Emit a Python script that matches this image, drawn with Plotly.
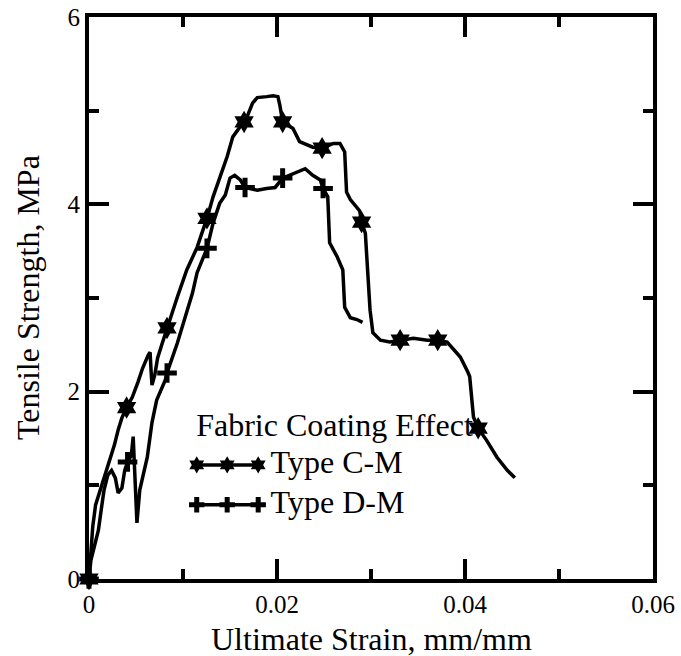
import plotly.graph_objects as go

# ---- data ----
cm_strain = [0, 0.0001, 0.0003, 0.0004, 0.0007, 0.0012, 0.0016, 0.0022, 0.0027, 0.0031, 0.0035,
             0.0040, 0.0046, 0.0052, 0.0057, 0.0063, 0.0065, 0.0066, 0.0067, 0.0070, 0.0073, 0.0078,
             0.0083, 0.0094, 0.0104, 0.0115, 0.0120, 0.01255, 0.0132, 0.0139, 0.0147, 0.0153, 0.0161,
             0.0165, 0.0168, 0.0174, 0.0179, 0.0189, 0.0196, 0.0201, 0.0203, 0.0206, 0.0217, 0.0224,
             0.0232, 0.0238, 0.0248, 0.0260, 0.0267, 0.0272, 0.0274, 0.0278, 0.0288, 0.0290, 0.0294,
             0.0297, 0.0299, 0.0302, 0.0310, 0.0320, 0.0331, 0.0345, 0.0360, 0.0371, 0.0381, 0.0395,
             0.0403, 0.0405, 0.0409, 0.0414, 0.0423, 0.0434, 0.0445, 0.0453]
cm_stress = [0, 0.13, 0.42, 0.56, 0.79, 0.95, 1.09, 1.27, 1.43, 1.59, 1.72,
             1.83, 1.94, 2.10, 2.25, 2.39, 2.42, 2.23, 2.07, 2.18, 2.36, 2.52,
             2.68, 3.01, 3.30, 3.54, 3.69, 3.85, 4.08, 4.29, 4.51, 4.72, 4.83,
             4.88, 4.93, 5.08, 5.14, 5.15, 5.16, 5.15, 5.06, 4.88, 4.81, 4.67,
             4.63, 4.61, 4.60, 4.65, 4.65, 4.56, 4.13, 4.05, 3.93, 3.81, 3.69,
             3.27, 2.87, 2.63, 2.55, 2.53, 2.55, 2.57, 2.55, 2.55, 2.53, 2.37,
             2.21, 2.16, 1.73, 1.61, 1.48, 1.30, 1.16, 1.08]
cm_mark_strain = [0, 0.0040, 0.0083, 0.01255, 0.0165, 0.0206, 0.0248, 0.0290, 0.0331, 0.0371, 0.0414]
cm_mark_stress = [0, 1.83, 2.68, 3.85, 4.88, 4.88, 4.60, 3.81, 2.55, 2.55, 1.61]

dm_strain = [0, 0.0002, 0.0006, 0.0010, 0.0013, 0.0016, 0.0020, 0.0024, 0.0028, 0.0031, 0.0035,
             0.0038, 0.0041, 0.0045, 0.0047, 0.0049, 0.0051, 0.0054, 0.0062, 0.0067, 0.0072, 0.0081,
             0.0083, 0.0094, 0.0104, 0.0110, 0.0115, 0.01255, 0.0132, 0.0139, 0.0145, 0.0150, 0.0155,
             0.0161, 0.0166, 0.0179, 0.0189, 0.0198, 0.0206, 0.0217, 0.0230, 0.0238, 0.0246, 0.0249,
             0.0254, 0.0256, 0.0264, 0.0270, 0.0272, 0.0278, 0.0285, 0.0291]
dm_stress = [0, 0.20, 0.36, 0.52, 0.74, 0.95, 1.11, 1.16, 1.08, 0.92, 0.97,
             1.16, 1.25, 1.32, 1.52, 1.06, 0.60, 0.95, 1.30, 1.67, 1.91, 2.12,
             2.20, 2.52, 2.87, 3.05, 3.27, 3.53, 3.80, 4.01, 4.10, 4.28, 4.31,
             4.26, 4.18, 4.15, 4.17, 4.18, 4.28, 4.33, 4.38, 4.31, 4.26, 4.17,
             4.08, 3.59, 3.44, 3.30, 2.90, 2.79, 2.77, 2.74]
dm_mark_strain = [0, 0.0041, 0.0083, 0.01255, 0.0166, 0.0206, 0.0249]
dm_mark_stress = [0, 1.25, 2.20, 3.53, 4.18, 4.28, 4.17]

series_names = ["Type C-M", "Type D-M"]
legend_title = "Fabric Coating Effect"
x_title = "Ultimate Strain, mm/mm"
y_title = "Tensile Strength, MPa"
x_ticks = [0, 0.02, 0.04, 0.06]
x_ticklabels = ["0", "0.02", "0.04", "0.06"]
y_ticks = [0, 2, 4, 6]
y_ticklabels = ["0", "2", "4", "6"]

FONT = "Liberation Serif"
BLACK = "#000000"

fig = go.Figure()

# legend (drawn manually on an overlay axis so it can show three markers, under the data)
fig.add_trace(go.Scatter(x=[0.190], y=[0.269], mode="text", text=[legend_title],
                         textposition="middle right", textfont=dict(family=FONT, size=32, color=BLACK),
                         xaxis="x2", yaxis="y2", showlegend=False, hoverinfo="skip", cliponaxis=False))
fig.add_trace(go.Scatter(x=[0.191, 0.245, 0.300], y=[0.203] * 3, mode="lines+markers",
                         line=dict(color=BLACK, width=3.5),
                         marker=dict(symbol="hexagram", size=13, color=BLACK),
                         xaxis="x2", yaxis="y2", showlegend=False, hoverinfo="skip", cliponaxis=False))
fig.add_trace(go.Scatter(x=[0.191, 0.245, 0.300], y=[0.132] * 3, mode="lines+markers",
                         line=dict(color=BLACK, width=3.5),
                         marker=dict(symbol="cross-thin", size=11, color=BLACK,
                                     line=dict(color=BLACK, width=5)),
                         xaxis="x2", yaxis="y2", showlegend=False, hoverinfo="skip", cliponaxis=False))
fig.add_trace(go.Scatter(x=[0.322, 0.322], y=[0.203, 0.132], mode="text", text=series_names,
                         textposition="middle right", textfont=dict(family=FONT, size=32, color=BLACK),
                         xaxis="x2", yaxis="y2", showlegend=False, hoverinfo="skip", cliponaxis=False))

# data curves
fig.add_trace(go.Scatter(x=cm_strain, y=cm_stress, mode="lines", name=series_names[0],
                         line=dict(color=BLACK, width=3.5), showlegend=False))
fig.add_trace(go.Scatter(x=dm_strain, y=dm_stress, mode="lines", name=series_names[1],
                         line=dict(color=BLACK, width=3.5), showlegend=False))
fig.add_trace(go.Scatter(x=cm_mark_strain, y=cm_mark_stress, mode="markers", showlegend=False,
                         marker=dict(symbol="hexagram", size=17, color=BLACK), cliponaxis=False))
fig.add_trace(go.Scatter(x=dm_mark_strain, y=dm_mark_stress, mode="markers", showlegend=False,
                         marker=dict(symbol="cross-thin", size=14, color=BLACK,
                                     line=dict(color=BLACK, width=5)), cliponaxis=False))

axis_common = dict(showline=True, linecolor=BLACK, linewidth=4, mirror="ticks",
                   ticks="inside", ticklen=20, tickwidth=4, tickcolor=BLACK,
                   showgrid=False, zeroline=False, automargin=False,
                   tickfont=dict(family=FONT, size=25, color=BLACK))

fig.update_layout(
    width=681, height=656,
    margin=dict(l=89, r=28, t=17, b=77),
    paper_bgcolor="white", plot_bgcolor="white",
    showlegend=False,
    xaxis=dict(range=[0, 0.06], tickvals=x_ticks, ticktext=x_ticklabels,
               minor=dict(dtick=0.01, ticks="inside", ticklen=10, tickwidth=4, tickcolor=BLACK),
               **axis_common),
    yaxis=dict(range=[0, 6], tickvals=y_ticks, ticktext=y_ticklabels,
               minor=dict(dtick=1, ticks="inside", ticklen=10, tickwidth=4, tickcolor=BLACK),
               **axis_common),
    xaxis2=dict(range=[0, 1], overlaying="x", visible=False, fixedrange=True),
    yaxis2=dict(range=[0, 1], overlaying="y", visible=False, fixedrange=True),
    annotations=[
        dict(text=x_title, xref="paper", yref="paper", x=0.5, y=0, xanchor="center",
             yanchor="top", yshift=-40, showarrow=False,
             font=dict(family=FONT, size=32, color=BLACK)),
        dict(text=y_title, xref="paper", yref="paper", x=0, y=0.5, xanchor="center",
             yanchor="middle", xshift=-61, textangle=-90, showarrow=False,
             font=dict(family=FONT, size=32, color=BLACK)),
    ],
)

fig.write_html("out.html")
